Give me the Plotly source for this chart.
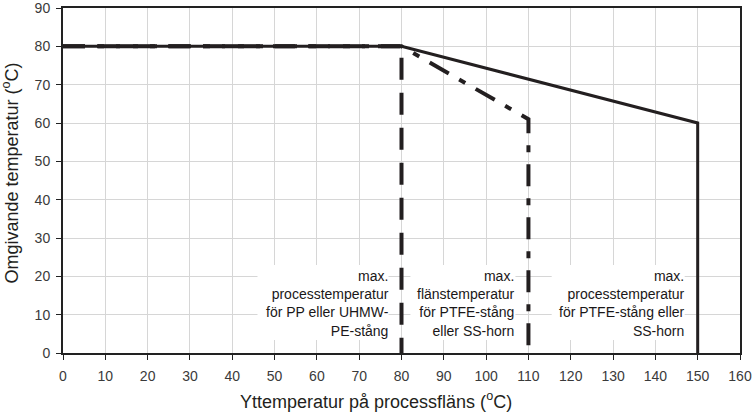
import plotly.graph_objects as go

# Data
solid_x = [0, 80, 150, 150]
solid_y = [80, 80, 60, 0]
dashdot_x = [0, 80, 110, 110]
dashdot_y = [80, 80, 61, 0]
dashed_x = [0, 80, 80]
dashed_y = [80, 80, 0]

label_x = [80, 110, 150]
label_lines = [
    ["max.", "processtemperatur", "för PP eller UHMW-", "PE-stång"],
    ["max.", "flänstemperatur", "för PTFE-stång", "eller SS-horn"],
    ["max.", "processtemperatur", "för PTFE-stång eller", "SS-horn"],
]

x_ticks = list(range(0, 161, 10))
y_ticks = list(range(0, 91, 10))

x_title = "Yttemperatur på processfläns (<sup>o</sup>C)"
y_title = "Omgivande temperatur (<sup>o</sup>C)"

# Styling
line_color = "#231f20"
cond_font = "Liberation Sans Narrow, Arial Narrow, sans-serif"
box_left_px = [-144, -118, -146]   # white label box left edge, px from anchor

fig = go.Figure()
fig.add_trace(go.Scatter(x=solid_x, y=solid_y, mode="lines",
                         line=dict(color=line_color, width=3), showlegend=False))
fig.add_trace(go.Scatter(x=dashdot_x, y=dashdot_y, mode="lines",
                         line=dict(color=line_color, width=4, dash="22px,12px,7px,12px"),
                         showlegend=False))
fig.add_trace(go.Scatter(x=dashed_x, y=dashed_y, mode="lines",
                         line=dict(color=line_color, width=4, dash="22px,13px"),
                         showlegend=False))

for xv, lines, bl in zip(label_x, label_lines, box_left_px):
    fig.add_shape(type="rect", xref="x", yref="y", xsizemode="pixel", ysizemode="pixel",
                  xanchor=xv, yanchor=0, x0=bl, x1=-13, y0=13, y1=88,
                  fillcolor="white", line=dict(width=0), layer="between")
    fig.add_annotation(x=xv, y=0, xref="x", yref="y", text="<br>".join(lines),
                       showarrow=False, xanchor="right", yanchor="middle", align="right",
                       xshift=-12, yshift=50, borderpad=0,
                       font=dict(family=cond_font, size=14, color="#1a1718"))

fig.add_annotation(x=0.462, y=0, xref="paper", yref="paper", text=x_title, showarrow=False,
                   xanchor="center", yanchor="middle", yshift=-47,
                   font=dict(family=cond_font, size=18, color="#231f20"))
fig.add_annotation(x=0, y=0.52, xref="paper", yref="paper", text=y_title, showarrow=False,
                   textangle=-90, xanchor="center", yanchor="middle", xshift=-52,
                   font=dict(family=cond_font, size=18, color="#231f20"))

axis_common = dict(showgrid=True, gridcolor="#d6d6d6", gridwidth=1, zeroline=False,
                   showline=True, linecolor="#222222", linewidth=2, mirror=True,
                   ticks="outside", ticklen=5, tickcolor="#222222", automargin=False,
                   ticklabeloverflow="allow",
                   tickfont=dict(family=cond_font, size=14, color="#3a3a3a"))

fig.update_layout(
    width=752, height=412,
    margin=dict(l=63, r=12, t=8, b=59),
    paper_bgcolor="white", plot_bgcolor="white",
    xaxis=dict(range=[0, 160], tickvals=x_ticks, ticklabelstandoff=4, **axis_common),
    yaxis=dict(range=[0, 90], tickvals=y_ticks, ticklabelstandoff=3, **axis_common),
)

fig.write_html("out.html", config={"displayModeBar": False},
               post_script="document.body.style.margin='0';")
